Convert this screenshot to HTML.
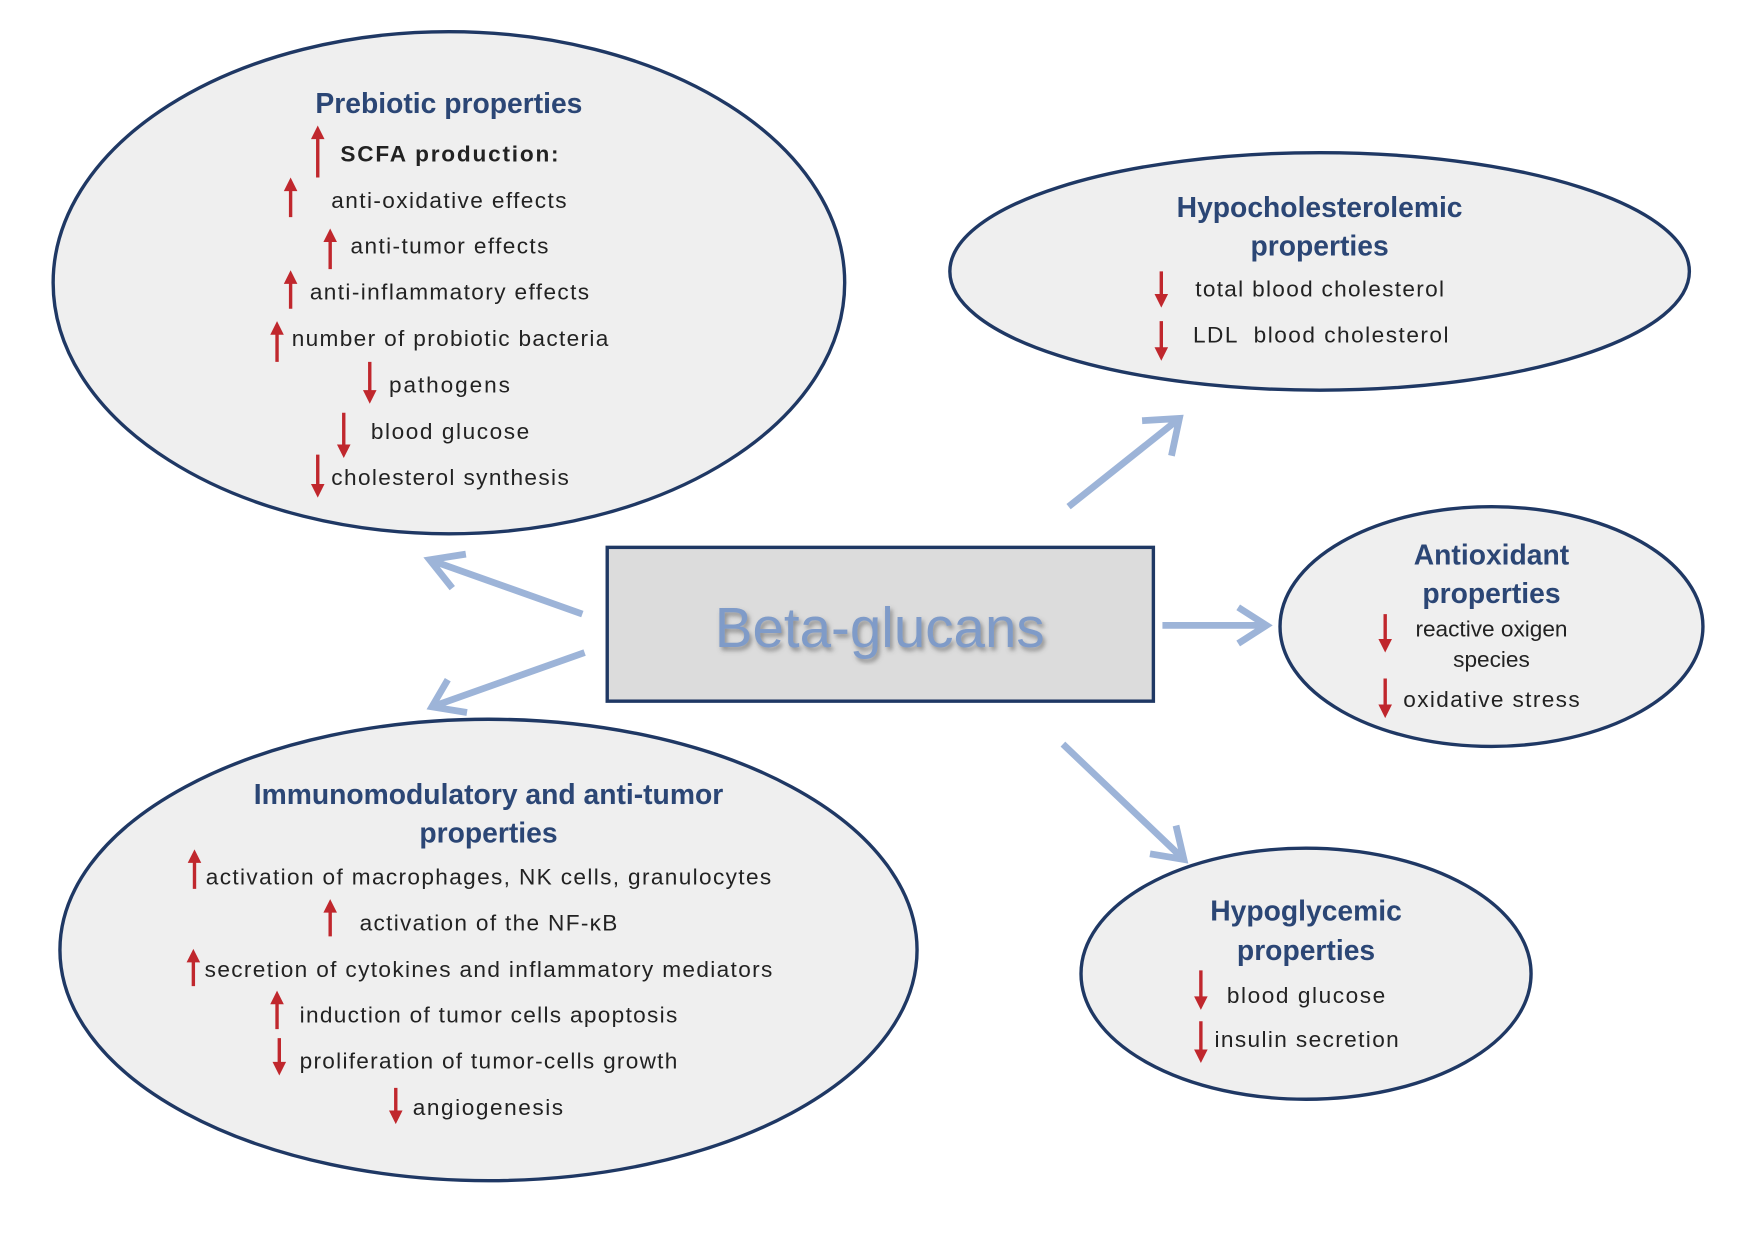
<!DOCTYPE html>
<html><head><meta charset="utf-8"><style>
html,body{margin:0;padding:0;background:#fff;}
svg{display:block;}
.t{font-family:"Liberation Sans",sans-serif;font-weight:bold;font-size:25px;fill:#2b4675;text-anchor:middle;}
.i{font-family:"Liberation Sans",sans-serif;font-size:20px;fill:#222;}
.e{fill:#efefef;stroke:#1f3864;stroke-width:3;}
.b{stroke:#9db4d8;stroke-width:6;fill:none;stroke-linecap:butt;}
.r{stroke:#c0272d;stroke-width:3;fill:none;}
.rh{fill:#c0272d;}
</style></head><body>
<svg width="1764" height="1244" viewBox="0 0 1560 1100" preserveAspectRatio="none" xmlns="http://www.w3.org/2000/svg">
<defs>
<filter id="sh"><feDropShadow dx="2" dy="3" stdDeviation="2" flood-color="#555" flood-opacity="0.6"/></filter>
</defs>
<ellipse class="e" cx="397" cy="250" rx="350" ry="222"/>
<ellipse class="e" cx="1167" cy="240" rx="327" ry="105"/>
<ellipse class="e" cx="1319" cy="554" rx="187" ry="106"/>
<ellipse class="e" cx="432" cy="840" rx="379" ry="204"/>
<ellipse class="e" cx="1155" cy="861" rx="199" ry="111"/>
<rect x="537" y="484" width="483" height="136" fill="#dcdcdc" stroke="#1f3864" stroke-width="3"/>
<text x="778" y="572" text-anchor="middle" font-family="Liberation Sans,sans-serif" font-size="50" fill="#7f9bc8" filter="url(#sh)">Beta-glucans</text>

<!-- blue arrows -->
<g class="b">
<path d="M945 448 L1043 370 M1010 372 L1043 370 L1036 403"/>
<path d="M515 543 L380 495 M400 520 L380 495 L412 490"/>
<path d="M517 577 L382 625 M396 601 L382 625 L413 630"/>
<path d="M1028 553 L1120 553 M1095 537 L1120 553 L1095 569"/>
<path d="M940 658 L1047 760 M1040 730 L1047 760 L1017 755"/>
</g>

<!-- red arrows: up -->
<g class="r">
<path d="M281 157V118 M257 192V164 M292 238V209 M257 273V246 M245 320V291 M172 786V758 M292 828V802 M171 872V846 M245 910V883"/>
<path d="M327 320V349 M304 365V397 M281 402V432 M1027 240V264 M1027 284V311 M1225 543V569 M1225 600V627 M247 918V943 M350 962V986 M1062 858V885 M1062 903V932"/>
</g>
<g class="rh">
<path d="M281 111l-6 12h12z M257 157l-6 12h12z M292 202l-6 12h12z M257 239l-6 12h12z M245 284l-6 12h12z M172 751l-6 12h12z M292 795l-6 12h12z M171 839l-6 12h12z M245 876l-6 12h12z"/>
<path d="M327 357l-6 -12h12z M304 405l-6 -12h12z M281 440l-6 -12h12z M1027 272l-6 -12h12z M1027 319l-6 -12h12z M1225 577l-6 -12h12z M1225 635l-6 -12h12z M247 951l-6 -12h12z M350 994l-6 -12h12z M1062 893l-6 -12h12z M1062 940l-6 -12h12z"/>
</g>

<!-- Prebiotic -->
<text class="t" x="397" y="100">Prebiotic properties</text>
<text class="i" x="301" y="143" font-weight="bold" textLength="193">SCFA production:</text>
<text class="i" x="293" y="184" textLength="208">anti-oxidative effects</text>
<text class="i" x="310" y="224" textLength="175">anti-tumor effects</text>
<text class="i" x="274" y="265" textLength="247">anti-inflammatory effects</text>
<text class="i" x="258" y="306" textLength="280">number of probiotic bacteria</text>
<text class="i" x="344" y="347" textLength="107">pathogens</text>
<text class="i" x="328" y="388" textLength="140">blood glucose</text>
<text class="i" x="293" y="429" textLength="210">cholesterol synthesis</text>

<!-- Hypocholesterolemic -->
<text class="t" x="1167" y="192">Hypocholesterolemic</text>
<text class="t" x="1167" y="226">properties</text>
<text class="i" x="1057" y="262" textLength="220">total blood cholesterol</text>
<text class="i" x="1055" y="303" textLength="226" xml:space="preserve">LDL  blood cholesterol</text>

<!-- Antioxidant -->
<text class="t" x="1319" y="499">Antioxidant</text>
<text class="t" x="1319" y="533">properties</text>
<text class="i" x="1319" y="563" text-anchor="middle">reactive oxigen</text>
<text class="i" x="1319" y="590" text-anchor="middle">species</text>
<text class="i" x="1241" y="625" textLength="156">oxidative stress</text>

<!-- Immuno -->
<text class="t" x="432" y="711">Immunomodulatory and anti-tumor</text>
<text class="t" x="432" y="745">properties</text>
<text class="i" x="182" y="782" textLength="500">activation of macrophages, NK cells, granulocytes</text>
<text class="i" x="318" y="823" textLength="228">activation of the NF-κB</text>
<text class="i" x="181" y="864" textLength="502">secretion of cytokines and inflammatory mediators</text>
<text class="i" x="265" y="904" textLength="334">induction of tumor cells apoptosis</text>
<text class="i" x="265" y="945" textLength="334">proliferation of tumor-cells growth</text>
<text class="i" x="365" y="986" textLength="133">angiogenesis</text>

<!-- Hypoglycemic -->
<text class="t" x="1155" y="814">Hypoglycemic</text>
<text class="t" x="1155" y="849">properties</text>
<text class="i" x="1085" y="887" textLength="140">blood glucose</text>
<text class="i" x="1074" y="926" textLength="163">insulin secretion</text>
</svg>
</body></html>
